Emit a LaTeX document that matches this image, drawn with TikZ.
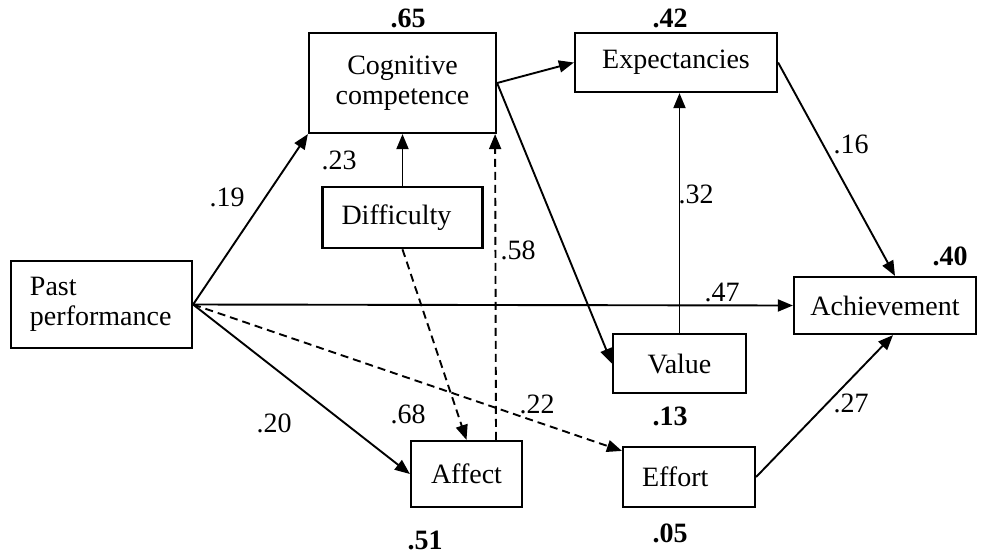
\documentclass[tikz,border=0pt]{standalone}
\usepackage{fontspec}
\setmainfont{Liberation Serif}
\usepackage{tikz}
\usetikzlibrary{arrows.meta,positioning}
\tikzstyle{arrow} = [line width=0.95pt,-{Triangle[length=7.5pt,width=6pt]}]
\tikzstyle{dasharrow} = [arrow, dash pattern=on 4pt off 2.5pt]
\tikzstyle{varbox} = [rectangle, draw, line width=1.1pt, inner sep=0pt, align=center]
\tikzstyle{coef} = [inner sep=0pt]
\tikzstyle{rsq} = [inner sep=0pt, font=\fontsize{14}{15}\selectfont\bfseries]

\begin{document}
\begin{tikzpicture}[x=0.5pt, y=-0.5pt, font=\fontsize{14}{15}\selectfont]
\useasboundingbox (0,0) rectangle (986,553);

% variables
\node (past) [varbox, minimum width=90.5pt, minimum height=43.5pt, align=left, text width=71.5pt] at (101.5,304.5) {Past\\performance};
\node (cognitive) [varbox, minimum width=93.5pt, minimum height=50pt] at (402.5,83) {Cognitive\\competence};
\node (difficulty) [varbox, below=26pt of cognitive, minimum width=80pt, minimum height=30.5pt, align=left, text width=61pt] {Difficulty};
\node (expect) [varbox, minimum width=101pt, minimum height=29.5pt] at (676,62.5) {Expectancies};
\node (value) [varbox, minimum width=66.5pt, minimum height=29.5pt] at (679.5,363.5) {Value};
\node (achievement) [varbox, minimum width=91pt, minimum height=28.5pt] at (885,305.5) {Achievement};
\node (affect) [varbox, minimum width=55.5pt, minimum height=33pt] at (466.5,474) {Affect};
\node (effort) [varbox, minimum width=66pt, minimum height=30pt, align=left, text width=47pt] at (689,477) {Effort};

% paths
\draw[arrow] (past.east) -- (cognitive.south west);
\draw[arrow] (past.east) -- (achievement.west);
\draw[arrow] (past.east) -- (affect.west);
\draw[dasharrow] (past.east) -- ([yshift=-2.5pt]effort.north west);
\draw[arrow] (difficulty.north) -- (cognitive.south);
\draw[dasharrow] (difficulty.south) -- (affect.north);
\draw[dasharrow] ([xshift=14.75pt]affect.north) -- ([xshift=-1pt]cognitive.south east);
\draw[arrow] (cognitive.east) -- (expect.west);
\draw[arrow] (cognitive.east) -- (value.west);
\draw[arrow] (value.north) -- (value.north |- expect.south);
\draw[arrow] (expect.east) -- ([xshift=5pt]achievement.north);
\draw[arrow] (effort.east) -- ([xshift=4pt]achievement.south);

% path coefficients
\node (c19) [coef] at (227,197) {.19};
\node (c23) [coef] at (339,160) {.23};
\node (c58) [coef] at (518,250) {.58};
\node (c32) [coef] at (696,194) {.32};
\node (c16) [coef] at (851,144) {.16};
\node (c47) [coef] at (722,292) {.47};
\node (c20) [coef] at (274,423) {.20};
\node (c68) [coef] at (408,414) {.68};
\node (c22) [coef] at (537,404) {.22};
\node (c27) [coef] at (851,403) {.27};

% explained variance
\node (r65) [rsq] at (408,18) {.65};
\node (r42) [rsq] at (670,18) {.42};
\node (r40) [rsq] at (950,256) {.40};
\node (r13) [rsq] at (670,416) {.13};
\node (r51) [rsq] at (425,540) {.51};
\node (r05) [rsq] at (670,533) {.05};
\end{tikzpicture}
\end{document}
